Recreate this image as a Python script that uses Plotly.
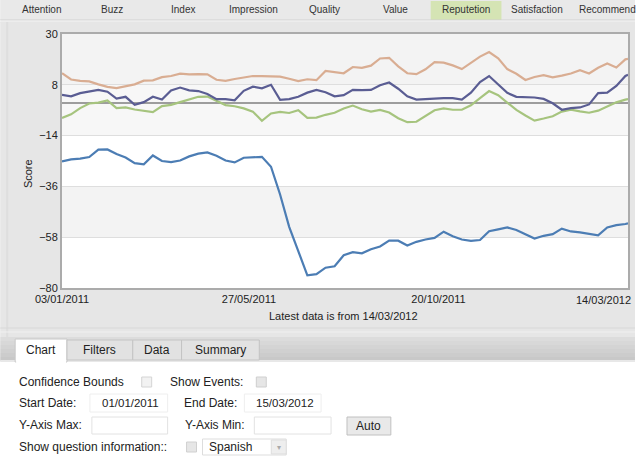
import pandas as pd
import plotly.graph_objects as go

# ---------------------------------------------------------------- data
# weekly readings from 03/01/2011, last point on 14/03/2012
weeks = pd.date_range("2011-01-03", periods=63, freq="7D")
dates = list(weeks) + [pd.Timestamp("2012-03-14")]

series_blue = [
    -25.2, -24.3, -24.0, -23.3, -20.1, -20.0, -22.0, -23.5, -25.9, -26.4,
    -22.6, -25.0, -25.5, -24.8, -23.0, -21.8, -21.3, -22.7, -24.8, -25.6,
    -23.6, -23.4, -23.2, -27.5, -39.5, -53.5, -64.0, -74.5, -74.0, -71.2,
    -70.6, -65.8, -64.5, -65.0, -63.2, -62.0, -59.5, -59.5, -61.6, -60.0,
    -59.0, -58.3, -55.6, -57.6, -59.0, -59.6, -59.2, -55.4, -54.6, -53.8,
    -54.9, -56.6, -58.6, -57.4, -56.7, -54.3, -55.5, -55.9, -56.4, -57.2,
    -53.8, -52.8, -52.3, -52.0,
]
series_orange = [
    13.0, 10.3, 9.7, 9.5, 8.2, 7.1, 6.6, 7.4, 8.2, 9.8,
    9.9, 11.3, 11.8, 12.8, 12.5, 12.6, 12.5, 10.2, 9.7, 10.5,
    11.2, 11.8, 11.8, 11.6, 11.5, 10.6, 9.6, 10.4, 10.0, 14.0,
    13.5, 13.0, 15.7, 15.3, 16.3, 19.4, 19.7, 16.0, 13.0, 12.6,
    14.7, 17.8, 17.6, 16.4, 14.8, 17.5, 20.2, 22.2, 19.5, 14.8,
    12.8, 10.1, 11.4, 12.2, 11.2, 12.0, 12.9, 14.3, 12.9, 15.4,
    17.2, 15.5, 19.0, 19.2,
]
series_navy = [
    3.6, 3.0, 4.4, 5.0, 5.8, 5.0, 2.0, 2.8, -0.7, 0.5,
    2.8, 1.6, 5.5, 6.8, 5.6, 5.3, 4.0, 1.8, 1.8, 1.3,
    5.4, 7.2, 6.5, 8.0, 1.5, 1.8, 2.8, 4.6, 5.8, 4.8,
    3.0, 3.5, 5.8, 5.7, 5.8, 7.8, 9.0, 6.3, 3.0, 1.6,
    1.9, 2.1, 2.2, 2.2, 1.6, 4.6, 9.2, 11.8, 8.0, 4.5,
    2.8, 2.6, 2.5, 1.9, 0.0, -2.8, -2.1, -1.8, -0.5, 4.4,
    4.6, 7.5, 11.8, 12.3,
]
series_green = [
    -6.4, -4.8, -2.1, -0.1, 0.3, 1.2, -2.1, -1.8, -2.7, -3.4,
    -3.8, -1.2, -0.7, 0.5, 1.8, 2.8, 2.9, 1.0, -0.8, -1.3,
    -2.2, -3.6, -7.6, -4.4, -3.7, -4.2, -3.0, -6.3, -6.2, -5.0,
    -4.1, -2.3, -1.0, -2.6, -3.6, -2.9, -4.0, -6.5, -8.2, -8.0,
    -5.5, -3.0, -2.2, -2.8, -2.8, -0.9, 2.2, 5.3, 3.5, 0.2,
    -2.9, -5.3, -7.5, -6.6, -5.6, -3.6, -2.8, -3.5, -4.1, -3.2,
    -1.5, 0.4, 1.6, 1.8,
]

y_ticks = [30, 8, -14, -36, -58, -80]
x_tick_dates = ["2011-01-03", "2011-05-27", "2011-10-20"]
x_tick_text = ["03/01/2011", "27/05/2011", "20/10/2011"]
last_tick_text = "14/03/2012"

metric_tabs = ["Attention", "Buzz", "Index", "Impression", "Quality",
               "Value", "Reputetion", "Satisfaction", "Recommend"]
active_metric = "Reputetion"
view_tabs = ["Chart", "Filters", "Data", "Summary"]

# ---------------------------------------------------------------- geometry
W, H = 637, 468
PL, PR, PT, PB = 62, 630, 34, 288   # plot box (pixels)
FONT = "Liberation Sans, Arial, Helvetica, sans-serif"


def fx(px):
    return (px - PL) / (PR - PL)


def fy(py):
    return (PB - py) / (PB - PT)


shapes = []
annotations = []


def rect(x0, y0, x1, y1, fill, line=None, lw=1, layer="below"):
    shapes.append(dict(
        type="rect", xref="paper", yref="paper",
        x0=fx(x0), x1=fx(x1), y0=fy(y1), y1=fy(y0),
        fillcolor=fill, layer=layer,
        line=dict(color=line or "rgba(0,0,0,0)", width=lw if line else 0),
    ))


def hline(x0, x1, y, color, lw=1):
    shapes.append(dict(
        type="line", xref="paper", yref="paper",
        x0=fx(x0), x1=fx(x1), y0=fy(y), y1=fy(y), layer="below",
        line=dict(color=color, width=lw),
    ))


def text(px, py, s, size=12, color="#222", anchor="left", angle=0):
    annotations.append(dict(
        xref="paper", yref="paper", x=fx(px), y=fy(py), text=s,
        showarrow=False, xanchor=anchor, yanchor="middle", textangle=angle,
        font=dict(family=FONT, size=size, color=color),
    ))


# metric tab strip
rect(0, 0, W, 20, "#e9e9e9")
tab_w = 71
for i, name in enumerate(metric_tabs):
    x0 = 6 + i * tab_w
    if name == active_metric:
        rect(x0, 1, x0 + tab_w, 20, "#d5e4b4")
    text(x0 + tab_w / 2, 10, name, size=10, color="#333", anchor="center")
hline(0, W, 20, "#d0d0d0")
hline(0, W, 22, "#dadada")

# chart panel
rect(0, 22, W, 337, "#e6e6e6")
rect(6, 22, 8, 337, "#dedede")
hline(0, W, 328, "#d8d8d8")
hline(0, W, 332, "#f0f0f0")

# plot area and alternating bands
rect(PL, PT, PR, PB, "#ffffff")
bands = [(8, 30, "#f3f3f3"), (-14, 8, "#f7f7f7"), (-58, -36, "#f3f3f3")]
for lo, hi, col in bands:
    shapes.append(dict(type="rect", xref="paper", yref="y",
                       x0=0, x1=1, y0=lo, y1=hi, fillcolor=col,
                       layer="below", line=dict(width=0)))

# view tabs band
band_cols = ["#dcdcdc", "#d8d8d8", "#d4d4d4", "#d0d0d0", "#cccccc", "#c8c8c8"]
for i, c in enumerate(band_cols):
    rect(0, 337 + i * 4, W, 341 + i * 4, c)
rect(0, 360, W, 362, "#e8e8e8")
tab_edges = [15, 67, 133, 182, 260]
for i, name in enumerate(view_tabs):
    x0, x1 = tab_edges[i], tab_edges[i + 1]
    if i == 0:
        rect(x0, 339, x1, 362, "#ffffff", "#c8c8c8")
        rect(x0 + 1, 359, x1 - 1, 363, "#ffffff")
    else:
        rect(x0, 340, x1, 360, "#e2e2e2", "#c4c4c4")
    text((x0 + x1) / 2, 350, name, size=12, color="#222", anchor="center")

# options form
text(17, 382, "Confidence Bounds")
rect(142, 377, 152, 387, "#f2f2f2", "#d4d4d4")
text(168, 382, "Show Events:")
rect(257, 377, 267, 387, "#e6e6e6", "#cfcfcf")

text(17, 403, "Start Date:")
rect(90, 394, 168, 412, "#ffffff", "#eeeeee")
text(100, 403, "01/01/2011", size=11.5)
text(182, 403, "End Date:")
rect(245, 394, 322, 412, "#ffffff", "#eeeeee")
text(255, 403, "15/03/2012", size=11.5)

text(17, 425, "Y-Axis Max:")
rect(92, 417, 168, 434, "#ffffff", "#e2e2e2")
text(183, 425, "Y-Axis Min:")
rect(255, 417, 332, 434, "#ffffff", "#e2e2e2")
rect(348, 417, 392, 435, "#e9e9e9", "#c0c0c0")
text(370, 426, "Auto", anchor="center")

text(17, 447, "Show question information::")
rect(187, 442, 197, 452, "#e6e6e6", "#d0d0d0")
rect(203, 439, 287, 455, "#ffffff", "#dddddd")
rect(272, 440, 287, 454, "#eeeeee", "#dddddd")
text(208, 447, "Spanish")
text(279.5, 447, "\u25be", size=8, color="#aaaaaa", anchor="center")

# axis captions
text(28, 174, "Score", size=11, color="#222", anchor="center", angle=-90)
text(344, 316, "Latest data is from 14/03/2012", size=11, anchor="center")
text(635, 300, last_tick_text, size=11, anchor="right")

# ---------------------------------------------------------------- traces
fig = go.Figure()
line_specs = [
    ("Series A", series_orange, "#d9ad92"),
    ("Series B", series_green, "#a6c47e"),
    ("Series C", series_navy, "#5a5d93"),
    ("Series D", series_blue, "#4c7db4"),
]
for name, vals, col in line_specs:
    fig.add_trace(go.Scatter(
        x=dates, y=vals, name=name, mode="lines",
        line=dict(color=col, width=2.2), showlegend=False,
        hoverinfo="skip",
    ))

fig.update_layout(
    width=W, height=H,
    margin=dict(l=PL, r=W - PR, t=PT, b=H - PB, pad=0),
    paper_bgcolor="#ffffff", plot_bgcolor="rgba(0,0,0,0)",
    shapes=shapes, annotations=annotations, showlegend=False,
    font=dict(family=FONT, size=11, color="#222"),
)
fig.update_xaxes(
    type="date", range=["2011-01-03", "2012-03-14"],
    tickvals=x_tick_dates, ticktext=x_tick_text, ticks="",
    tickfont=dict(size=11, color="#222"), showgrid=False,
    showline=True, mirror=True, linecolor="#ababab", linewidth=2,
    zeroline=False,
)
fig.update_yaxes(
    range=[-80, 30], tickvals=y_ticks, ticks="",
    tickfont=dict(size=11, color="#222"),
    showgrid=True, gridcolor="#dedede", gridwidth=1,
    zeroline=True, zerolinecolor="#9d9d9d", zerolinewidth=2,
    showline=True, mirror=True, linecolor="#ababab", linewidth=2,
)

fig.write_html("out.html")
